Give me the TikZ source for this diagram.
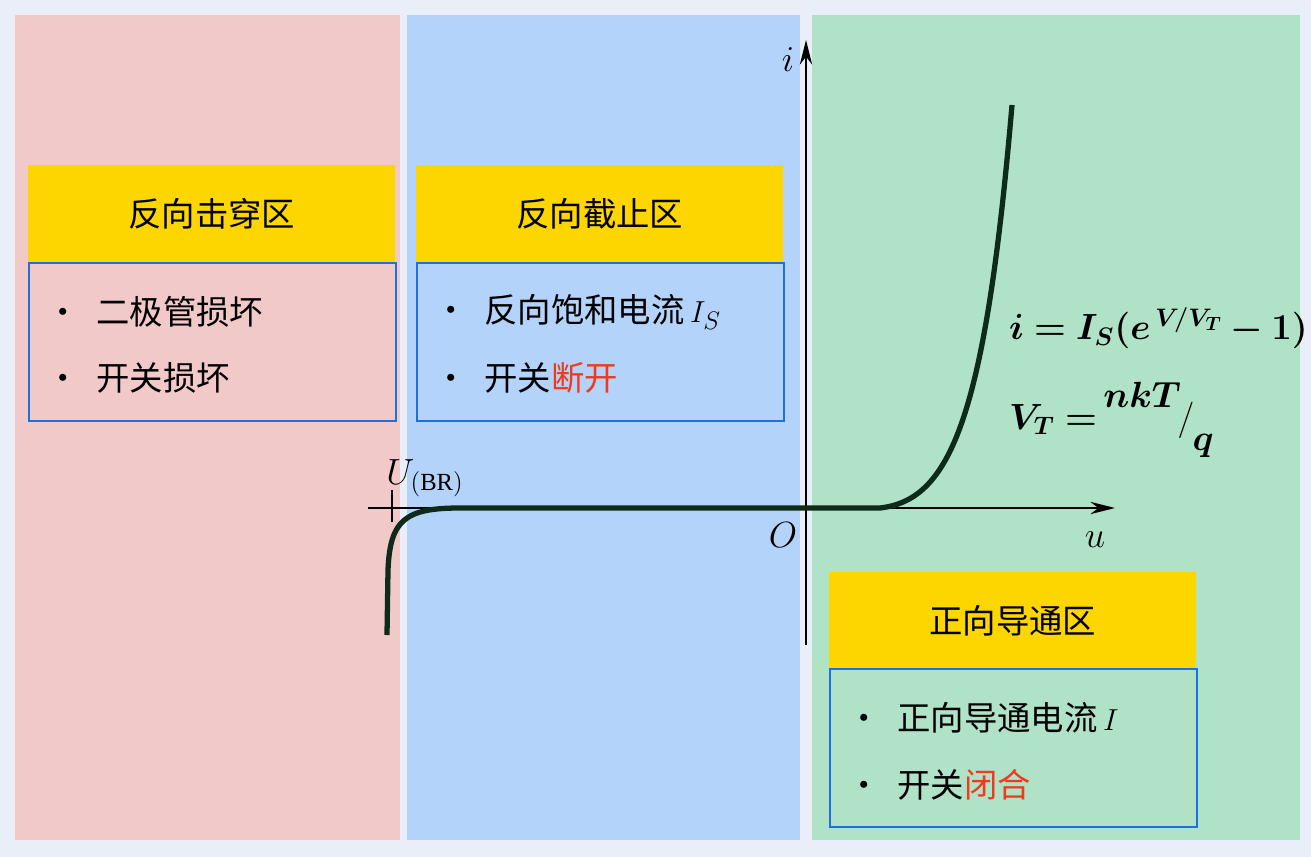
\documentclass[tikz,border=0pt]{standalone}
\usepackage{fontspec}
\usepackage{bm}
\setmainfont{Liberation Serif}
\newfontfamily\cjk{Noto Sans CJK SC}
\usetikzlibrary{arrows.meta}
\definecolor{frameBg}{HTML}{E9EEF8}
\definecolor{redBg}{HTML}{F2C9C9}
\definecolor{blueBg}{HTML}{B4D3FA}
\definecolor{greenBg}{HTML}{B0E2C7}
\definecolor{headYel}{HTML}{FDD600}
\definecolor{boxLine}{HTML}{1E6FE0}
\definecolor{hot}{HTML}{F03A1E}
\definecolor{curveCol}{HTML}{0E2A18}
\tikzset{
  head/.style={fill=headYel,minimum width=7.34cm,minimum height=1.94cm,anchor=north west,
    font=\cjk\fontsize{19}{22}\selectfont,inner sep=0pt},
  body/.style={draw=boxLine,line width=1.2pt,minimum width=7.34cm,minimum height=3.16cm,
    anchor=north west,inner sep=0pt},
  item/.style={anchor=west,font=\cjk\fontsize{19}{22}\selectfont},
  axis/.style={line width=1.4pt,-{Stealth[length=14pt,width=7pt]}}
}
\begin{document}
\begin{tikzpicture}[x=0.02cm,y=-0.02cm]
\useasboundingbox (0,0) rectangle (1311,857);
\fill[frameBg] (0,0) rectangle (1311,857);
\fill[redBg] (15,15) rectangle (400,840);
\fill[blueBg] (407,15) rectangle (800,840);
\fill[greenBg] (812,15) rectangle (1300,840);

% boxes
\node[head] (hBreak) at (28,165) {反向击穿区};
\node[body] (bBreak) at (28,262) {};
\node[item] (iBreakA) at (40,312) {•\enspace 二极管损坏};
\node[item] (iBreakB) at (40,378) {•\enspace 开关损坏};

\node[head] (hCut) at (416,165) {反向截止区};
\node[body] (bCut) at (416,262) {};
\node[item] (iCutA) at (428,312) {•\enspace 反向饱和电流\,$I_S$};
\node[item] (iCutB) at (428,378) {•\enspace 开关\textcolor{hot}{断开}};

\node[head] (hFwd) at (829,572) {正向导通区};
\node[body] (bFwd) at (829,668) {};
\node[item] (iFwdA) at (841,718) {•\enspace 正向导通电流\,$I$};
\node[item] (iFwdB) at (841,785) {•\enspace 开关\textcolor{hot}{闭合}};

% axes
\coordinate (origin) at (806,508);
\coordinate (yTop) at (806,40);
\coordinate (yBot) at (806,645);
\coordinate (xLeft) at (368,508);
\coordinate (xRight) at (1115,508);
\draw[axis] (yBot) -- (yTop);
\draw[axis] (xLeft) -- (xRight);
\draw[line width=1.2pt] (392,490) -- (392,522);
\node[font=\fontsize{20}{24}\selectfont] (iLab) at (788,60) {$i$};
\node[font=\fontsize{20}{24}\selectfont] (uLab) at (1095,540) {$u$};
\node[font=\fontsize{20}{24}\selectfont] (oLab) at (783,535) {$O$};
\node[font=\fontsize{20}{24}\selectfont] (ubr) at (425,478) {$U_{\mathrm{(BR)}}$};

% curves
\draw[curveCol,line width=3pt] (806,508) -- (880,508)
  .. controls (950,500) and (985,420) .. (1012,105);
\draw[curveCol,line width=3pt] (806,508) -- (460,508)
  .. controls (405,508) and (390,520) .. (388,570) -- (387,635);

% formula
\node[anchor=west,font=\fontsize{22}{26}\selectfont] (eqA) at (1003,328)
  {$\bm{i = I_S(e^{\,V\!/V_T}-1)}$};
\node[anchor=west,font=\fontsize{22}{26}\selectfont] (eqB) at (1003,420)
  {$\bm{V_T =}$\,\raisebox{1.2ex}{$\bm{nkT}$}\kern-2pt$\Big/$\kern-1pt\raisebox{-1.2ex}{$\bm{q}$}};
\end{tikzpicture}
\end{document}
